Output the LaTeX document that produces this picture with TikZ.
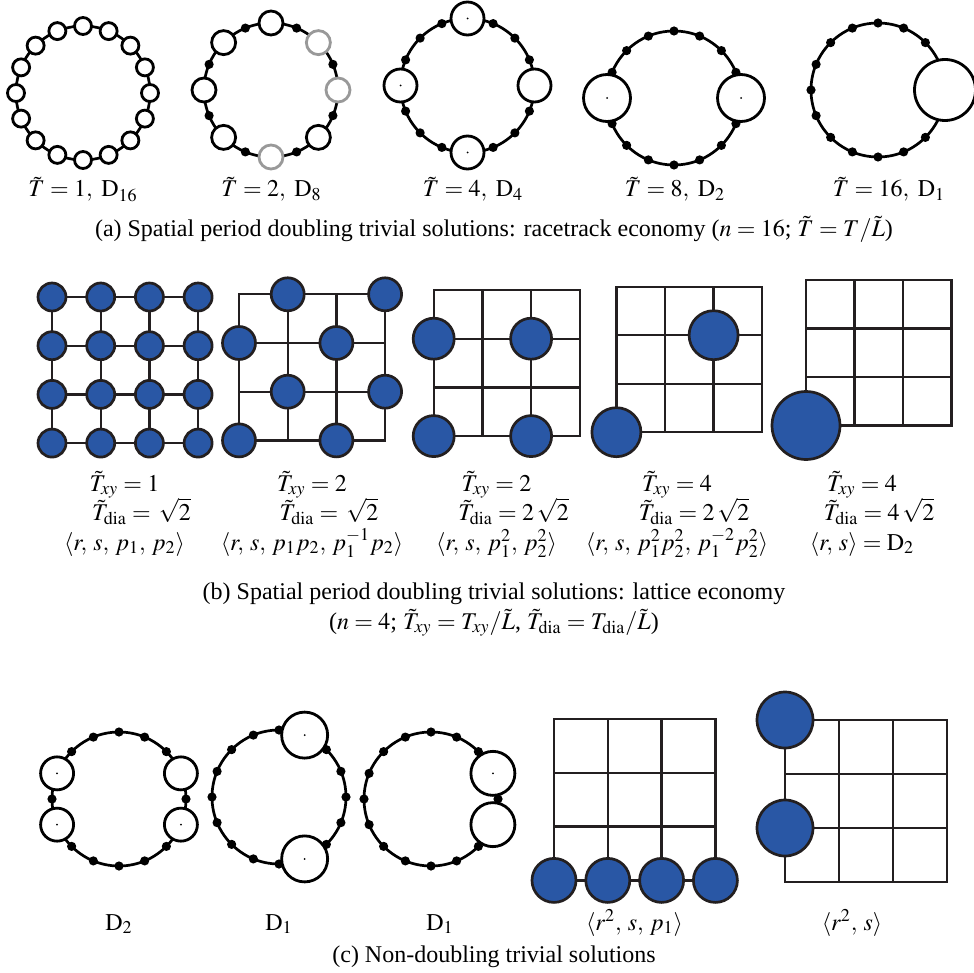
\documentclass[tikz,border=0pt]{standalone}
\usepackage{mathptmx}
\usepackage{fontspec}
\setmainfont{Liberation Serif}
\definecolor{blu}{HTML}{2957A5}
\definecolor{outl}{HTML}{231F20}
\definecolor{gridc}{HTML}{231F20}
\newcommand{\cm}{,\mskip2.5mu}
\tikzset{
 ringl/.style={line width=1.35pt, draw=black},
 opc/.style={circle, draw=black, fill=white, line width=1.4pt, inner sep=0pt, outer sep=0pt},
 gopc/.style={opc, draw=black!40},
 bdot/.style={circle, fill=black, inner sep=0pt, minimum size=4.6pt},
 cdot/.style={circle, fill=black, inner sep=0pt, minimum size=1pt},
 bnode/.style={circle, draw=outl, fill=blu, line width=1.35pt, inner sep=0pt},
 gridl/.style={line width=1.15pt, draw=gridc, line cap=rect},
 lab/.style={inner sep=0pt, anchor=base, font=\fontsize{12}{14}\selectfont},
}
\newcommand{\myring}[2]{\coordinate (#1) at #2; \draw[ringl] (#1) circle[radius=33.5pt];}
\newcommand{\mydots}[2]{\foreach \a [count=\k] in {#2} {\path (#1) ++(\a:33.5pt) node[bdot] (#1d\k) {};}}
\newcommand{\lat}[5]{%
 \foreach \i in {0,...,3}{\foreach \j in {0,...,3}{\coordinate (#1-\i-\j) at ({#2+\i*#4},{#3+\j*#5});}}
 \foreach \i in {0,...,3}{\draw[gridl] (#1-\i-0) -- (#1-\i-3); \draw[gridl] (#1-0-\i) -- (#1-3-\i);}
}
\begin{document}
\begin{tikzpicture}[x=0.5pt,y=-0.5pt]
\useasboundingbox[fill=white] (0,0) rectangle (974,973);

% ---------------- row (a)
\myring{ra}{(83,93)}
\foreach \a [count=\k] in {0,22.5,...,337.5} {\path (ra) ++(\a:33.5pt) node[opc, minimum size=8.5pt] (rao\k) {};}

\myring{rb}{(271,90)}
\mydots{rb}{22.5,67.5,112.5,157.5,202.5,247.5,292.5,337.5}
\foreach \a/\s [count=\k] in {0/gopc,45/gopc,90/opc,135/opc,180/opc,225/opc,270/gopc,315/opc}
 {\path (rb) ++(\a:33.5pt) node[\s, minimum size=12pt] (rbo\k) {};}

\myring{rc}{(467.5,85.5)}
\mydots{rc}{22.5,45,67.5,112.5,135,157.5,202.5,225,247.5,292.5,315,337.5}
\foreach \a [count=\k] in {0,90,180,270} {\path (rc) ++(\a:33.5pt) node[opc, minimum size=16.5pt] (rco\k) {};}
\node[cdot] (rcc2) at (rco2) {};
\node[cdot] (rcc3) at (rco3) {};
\node[cdot] (rcc4) at (rco4) {};

\myring{rd}{(674,98)}
\mydots{rd}{22.5,45,67.5,90,112.5,135,157.5,202.5,225,247.5,270,292.5,315,337.5}
\foreach \a [count=\k] in {0,180} {\path (rd) ++(\a:33.5pt) node[opc, minimum size=23.5pt] (rdo\k) {};}
\node[cdot] (rdc1) at (rdo1) {};
\node[cdot] (rdc2) at (rdo2) {};

\myring{re}{(878,90)}
\mydots{re}{22.5,45,...,337.5}
\path (re) ++(0:33.5pt) node[opc, minimum size=30.5pt] (reo1) {};

\node[lab] (la) at (83,197) {$\tilde T = 1,\ \mathrm{D}_{16}$};
\node[lab] (lb) at (271.5,197) {$\tilde T = 2,\ \mathrm{D}_{8}$};
\node[lab] (lc) at (473,197) {$\tilde T = 4,\ \mathrm{D}_{4}$};
\node[lab] (ld) at (675,197) {$\tilde T = 8,\ \mathrm{D}_{2}$};
\node[lab] (le) at (889,197) {$\tilde T = 16,\ \mathrm{D}_{1}$};
\node[lab] (capa) at (494,236.7) {(a) Spatial period doubling trivial solutions: racetrack economy ($n = 16$;\ $\tilde T = T/\tilde L$)};

% ---------------- row (b)
\lat{LA}{52}{297}{48.7}{48.7}
\foreach \i in {0,...,3}{\foreach \j in {0,...,3}{\node[bnode, minimum size=14pt] (LAb\i\j) at (LA-\i-\j) {};}}

\lat{LB}{239}{294.3}{48.7}{48.7}
\foreach \i/\j in {1/0,3/0,0/1,2/1,1/2,3/2,0/3,2/3}{\node[bnode, minimum size=16.5pt] (LBb\i\j) at (LB-\i-\j) {};}

\lat{LC}{433.7}{290}{48.7}{48.7}
\foreach \i/\j in {0/1,2/1,0/3,2/3}{\node[bnode, minimum size=20.5pt] (LCb\i\j) at (LC-\i-\j) {};}

\lat{LD}{616.4}{286.7}{48.6}{48.5}
\foreach \i/\j in {2/1,0/3}{\node[bnode, minimum size=24.5pt] (LDb\i\j) at (LD-\i-\j) {};}

\lat{LE}{806}{280}{48.5}{48.5}
\node[bnode, minimum size=34pt] (LEb03) at (LE-0-3) {};

\node[lab] (ta1) at (124.5,491) {$\tilde T_{xy} = 1$};
\node[lab] (tb1) at (141.5,520) {$\tilde T_{\mathrm{dia}} = \,\sqrt{2}$};
\node[lab] (tc1) at (124.5,550) {$\langle r\cm s\cm p_1\cm p_2\rangle$};
\node[lab] (ta2) at (312,491) {$\tilde T_{xy} = 2$};
\node[lab] (tb2) at (329,520) {$\tilde T_{\mathrm{dia}} = \,\sqrt{2}$};
\node[lab] (tc2) at (312,550) {$\langle r\cm s\cm p_1p_2\cm p_1^{-1}p_2\rangle$};
\node[lab] (ta3) at (496.5,491) {$\tilde T_{xy} = 2$};
\node[lab] (tb3) at (513.5,520) {$\tilde T_{\mathrm{dia}} = 2\,\sqrt{2}$};
\node[lab] (tc3) at (496.5,550) {$\langle r\cm s\cm p_1^2\cm p_2^2\rangle$};
\node[lab] (ta4) at (677,491) {$\tilde T_{xy} = 4$};
\node[lab] (tb4) at (694,520) {$\tilde T_{\mathrm{dia}} = 2\,\sqrt{2}$};
\node[lab] (tc4) at (677,550) {$\langle r\cm s\cm p_1^2p_2^2\cm p_1^{-2}p_2^2\rangle$};
\node[lab] (ta5) at (862,491) {$\tilde T_{xy} = 4$};
\node[lab] (tb5) at (879,520) {$\tilde T_{\mathrm{dia}} = 4\,\sqrt{2}$};
\node[lab] (tc5) at (862,550) {$\langle r\cm s\rangle = \mathrm{D}_2$};
\node[lab] (capb1) at (494,599) {(b) Spatial period doubling trivial solutions: lattice economy};
\node[lab] (capb2) at (494,629) {($n = 4$;\ $\tilde T_{xy} = T_{xy}/\tilde L$,\ $\tilde T_{\mathrm{dia}} = T_{\mathrm{dia}}/\tilde L$)};

% ---------------- row (c)
\myring{ca}{(119,799)}
\mydots{ca}{0,45,67.5,90,112.5,135,180,225,247.5,270,292.5,315}
\foreach \a [count=\k] in {22.5,157.5,202.5,337.5} {\path (ca) ++(\a:33.5pt) node[opc, minimum size=16.5pt] (cao\k) {};}
\node[cdot] (cac2) at (cao2) {};
\node[cdot] (cac3) at (cao3) {};
\node[cdot] (cac4) at (cao4) {};

\myring{cb}{(279,797)}
\mydots{cb}{0,22.5,45,90,112.5,135,157.5,180,202.5,225,247.5,270,315,337.5}
\foreach \a [count=\k] in {67.5,292.5} {\path (cb) ++(\a:33.5pt) node[opc, minimum size=23pt] (cbo\k) {};}
\node[cdot] (cbc1) at (cbo1) {};
\node[cdot] (cbc2) at (cbo2) {};

\myring{cc}{(431,799)}
\mydots{cc}{0,45,67.5,90,112.5,135,157.5,180,202.5,225,247.5,270,292.5,315}
\foreach \a [count=\k] in {22.5,337.5} {\path (cc) ++(\a:33.5pt) node[opc, minimum size=22pt] (cco\k) {};}
\node[cdot] (ccc1) at (cco1) {};

\lat{LF}{554}{719}{53.8}{53.8}
\foreach \i in {0,...,3}{\node[bnode, minimum size=22pt] (LFb\i) at (LF-\i-3) {};}

\lat{LG}{785}{720}{54}{54}
\node[bnode, minimum size=28pt] (LGb00) at (LG-0-0) {};
\node[bnode, minimum size=28pt] (LGb02) at (LG-0-2) {};

\node[lab] (da) at (119,930) {$\mathrm{D}_2$};
\node[lab] (db) at (279,930) {$\mathrm{D}_1$};
\node[lab] (dc) at (440,930) {$\mathrm{D}_1$};
\node[lab] (dd) at (634.5,930) {$\langle r^2\cm s\cm p_1\rangle$};
\node[lab] (de) at (852,930) {$\langle r^2\cm s\rangle$};
\node[lab] (capc) at (494,962) {(c) Non-doubling trivial solutions};
\end{tikzpicture}
\end{document}
